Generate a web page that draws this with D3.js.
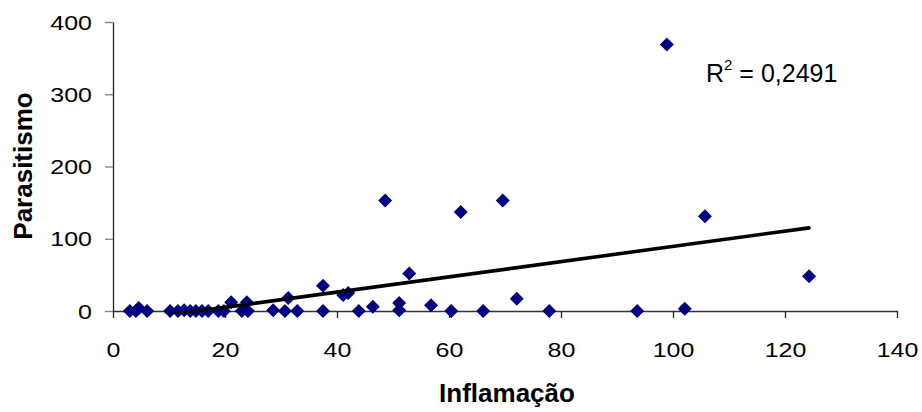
<!DOCTYPE html>
<html>
<head>
<meta charset="utf-8">
<script src="https://cdn.jsdelivr.net/npm/d3@7"></script>
<style>
  html, body { margin: 0; padding: 0; background: #ffffff; }
  svg { display: block; }
</style>
</head>
<body>
<div id="chart"></div>
<script>
// ---- data ----
const inflamacao = [3.0, 4.1, 4.6, 6.1, 10.2, 11.6, 12.7, 13.8, 14.8, 15.9, 17.0, 18.8, 19.8, 21.1, 23.0, 23.9, 24.1,
  28.6, 30.7, 31.3, 32.9, 37.5, 37.5, 41.1, 42.0, 43.9, 46.4, 48.6, 51.1, 51.1, 52.9, 56.8, 60.4, 62.1, 66.1,
  69.6, 72.1, 77.9, 93.6, 98.9, 102.1, 105.7, 124.3];
const parasitismo = [0, 0, 4, 0, 0, 0, 1, 0, 0, 0, 0, 0, 0, 12, 0, 12, 0,
  1, 0, 18, 0, 0, 35, 22, 25, 0, 6, 153, 11, 1, 52, 8, 0, 137, 0,
  153, 17, 0, 0, 369, 3, 131, 48];
const xTicks = [0, 20, 40, 60, 80, 100, 120, 140];
const yTicks = [0, 100, 200, 300, 400];
const xTitle = "Inflamação";
const yTitle = "Parasitismo";
const r2Label = ["R", "2", " = 0,2491"];

// ---- layout ----
const W = 922, H = 412;
const svg = d3.select("#chart").append("svg").attr("width", W).attr("height", H);

const x = d3.scaleLinear().domain([0, 140]).range([113, 897]);
const y = d3.scaleLinear().domain([0, 400]).range([311, 22]);

const points = inflamacao.map((v, i) => ({ x: v, y: parasitismo[i] }));

// linear regression from the data
const mx = d3.mean(points, d => d.x), my = d3.mean(points, d => d.y);
const sxy = d3.sum(points, d => (d.x - mx) * (d.y - my));
const sxx = d3.sum(points, d => (d.x - mx) * (d.x - mx));
const slope = sxy / sxx, intercept = my - slope * mx;

// axes
const font = "'Liberation Sans', Arial, sans-serif";

const xAxis = svg.append("g").attr("transform", `translate(0,${y(0)})`)
  .call(d3.axisBottom(x).tickValues(xTicks).tickSize(7).tickSizeOuter(0).tickFormat(d3.format("d")));
xAxis.select(".domain").attr("stroke", "#333").attr("stroke-width", 1.3);
xAxis.selectAll(".tick line").attr("stroke", "#222").attr("stroke-width", 1.3);
xAxis.selectAll(".tick text")
  .attr("y", 46).attr("dy", 0).attr("text-anchor", "middle")
  .attr("font-family", font).attr("font-size", 20).attr("fill", "#000")
  .attr("transform", "scale(1.25,1)");

const yAxis = svg.append("g").attr("transform", `translate(${x(0)},0)`)
  .call(d3.axisLeft(y).tickValues(yTicks).tickSize(8).tickSizeOuter(0).tickFormat(d3.format("d")));
yAxis.select(".domain").attr("stroke", "#222").attr("stroke-width", 1.3);
yAxis.selectAll(".tick line").attr("stroke", "#808080").attr("stroke-width", 1.3);
yAxis.selectAll(".tick text")
  .attr("x", -21 / 1.25).attr("dy", "0.36em")
  .attr("font-family", font).attr("font-size", 20).attr("fill", "#000")
  .attr("transform", "scale(1.25,1)");

// markers
const r = 7;
svg.append("g").selectAll("path").data(points).join("path")
  .attr("transform", d => `translate(${x(d.x)},${y(d.y)})`)
  .attr("d", `M0,${-r}L${r},0L0,${r}L${-r},0Z`)
  .attr("fill", "#000080");

// trendline over data range, clipped to plot area
svg.append("clipPath").attr("id", "plotClip").append("rect")
  .attr("x", x(0)).attr("y", y(400) - 5)
  .attr("width", x(140) - x(0)).attr("height", y(0) - y(400) + 8);
const xr = d3.extent(points, d => d.x);
svg.append("line")
  .attr("clip-path", "url(#plotClip)")
  .attr("x1", x(xr[0])).attr("y1", y(slope * xr[0] + intercept))
  .attr("x2", x(xr[1])).attr("y2", y(slope * xr[1] + intercept))
  .attr("stroke", "#000").attr("stroke-width", 3.6).attr("stroke-linecap", "round");

// R² label
const r2 = svg.append("text").attr("x", 706).attr("y", 82)
  .attr("font-family", font).attr("font-size", 25).attr("fill", "#000");
r2.append("tspan").text(r2Label[0]);
r2.append("tspan").attr("font-size", 15).attr("dy", -12).text(r2Label[1]);
r2.append("tspan").attr("dy", 12).text(r2Label[2]);

// axis titles
svg.append("text").attr("x", 507).attr("y", 402).attr("text-anchor", "middle")
  .attr("font-family", font).attr("font-weight", "bold").attr("font-size", 26).attr("fill", "#000")
  .text(xTitle);
svg.append("text").attr("transform", "translate(32,166) rotate(-90)").attr("text-anchor", "middle")
  .attr("font-family", font).attr("font-weight", "bold").attr("font-size", 26).attr("fill", "#000")
  .text(yTitle);
</script>
</body>
</html>
